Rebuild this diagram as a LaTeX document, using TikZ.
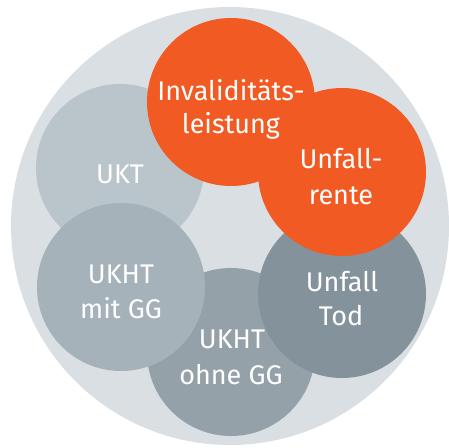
\documentclass[tikz,border=0pt]{standalone}
\usepackage{fontspec}
\setmainfont{Fira Sans}
\definecolor{bgc}{HTML}{DADFE3}
\definecolor{c1}{HTML}{BAC5CB}
\definecolor{c2}{HTML}{A6B2B9}
\definecolor{c3}{HTML}{95A1A9}
\definecolor{c4}{HTML}{84939B}
\definecolor{org}{HTML}{F15A22}
\begin{document}
\begin{tikzpicture}[x=1pt,y=-1pt,
  disc/.style={circle,inner sep=0pt,minimum size=168pt,draw=none},
  lbl/.style={anchor=base,inner sep=0pt,text=white,font=\fontsize{27}{33}\selectfont}]
\useasboundingbox (0,0) rectangle (449,447);
\node[circle,inner sep=0pt,minimum size=438pt,fill=bgc] (bg) at (230,226) {};
\node[disc,fill=c1] (ukt) at (120,168) {};
\node[disc,fill=c3] (ohne) at (231,352) {};
\node[disc,fill=c2] (mit) at (121,287) {};
\node[disc,fill=c4] (tod) at (342,294) {};
\node[disc,fill=org] (inv) at (231,102) {};
\node[disc,fill=org] (rente) at (342,172) {};
\node[lbl] (tukt) at (120,183) {UKT};
\node[lbl] (tinv1) at (231,100) {Invaliditäts-};
\node[lbl] (tinv2) at (231,133) {leistung};
\node[lbl] (tren1) at (341,168) {Unfall-};
\node[lbl] (tren2) at (341,204) {rente};
\node[lbl] (ttod1) at (342,291) {Unfall};
\node[lbl] (ttod2) at (341,325) {Tod};
\node[lbl] (tmit1) at (121,283) {UKHT};
\node[lbl] (tmit2) at (121,318) {mit GG};
\node[lbl] (tohne1) at (232,348) {UKHT};
\node[lbl] (tohne2) at (231,384) {ohne GG};
\end{tikzpicture}
\end{document}
